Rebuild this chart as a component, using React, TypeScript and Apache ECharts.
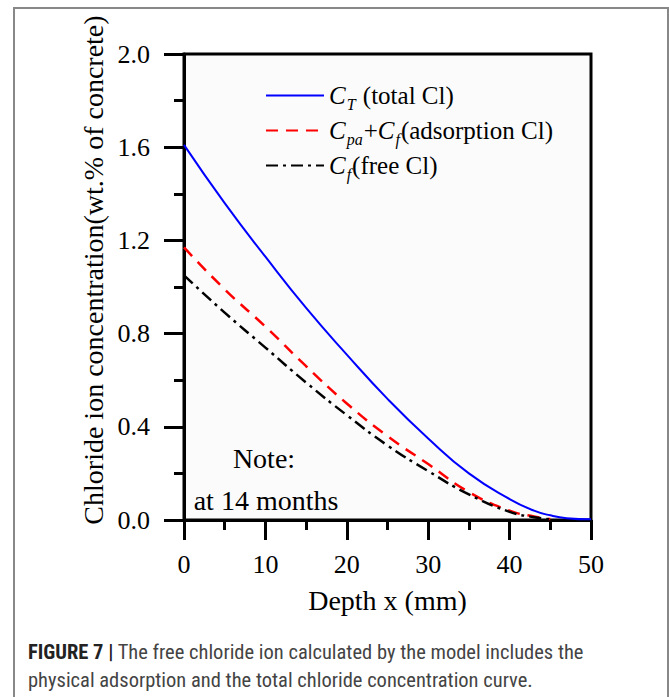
import React, { useEffect, useRef } from "react";
import * as echarts from "echarts";

const depth = [0, 5, 10, 15, 20, 25, 30, 35, 40, 43, 45, 47, 50];
const totalCl = [1.61, 1.36, 1.13, 0.91, 0.71, 0.52, 0.35, 0.2, 0.09, 0.04, 0.02, 0.008, 0.003];
const depthPart = [0, 5, 10, 15, 20, 25, 30, 35, 40, 43, 45];
const adsorptionCl = [1.17, 0.99, 0.83, 0.66, 0.5, 0.36, 0.24, 0.12, 0.04, 0.015, 0.004];
const freeCl = [1.05, 0.89, 0.74, 0.59, 0.45, 0.32, 0.21, 0.11, 0.035, 0.012, 0.003];

const seriesNames = ["CT (total Cl)", "Cpa+Cf (adsorption Cl)", "Cf (free Cl)"];
const legendRich: Record<string, string> = {
  "CT (total Cl)": "{i|C}{s|T}{n| (total Cl)}",
  "Cpa+Cf (adsorption Cl)": "{i|C}{s|pa}{n|+}{i|C}{s|f}{n|(adsorption Cl)}",
  "Cf (free Cl)": "{i|C}{s|f}{n|(free Cl)}",
};
const yTitle = "Chloride ion concentration(wt.% of concrete)";
const xTitle = "Depth x (mm)";

const SERIF = "'Liberation Serif', 'Times New Roman', serif";
const NARROW = "'Liberation Sans Narrow', 'Roboto Condensed', 'Liberation Sans', Arial, sans-serif";

export default function App() {
  const ref = useRef<HTMLDivElement>(null);
  useEffect(() => {
    if (!ref.current) return;
    const chart = echarts.init(ref.current, null, { renderer: "svg" });
    const pairs = (xs: number[], ys: number[]) => xs.map((x, i) => [x, ys[i]]);
    chart.setOption({
      animation: false,
      backgroundColor: "#ffffff",
      grid: {
        left: 184,
        top: 54,
        width: 407,
        height: 466,
        show: true,
        backgroundColor: "#fbfbfb",
        borderColor: "#000",
        borderWidth: 3,
      },
      legend: {
        data: seriesNames,
        orient: "vertical",
        left: 260,
        top: 78,
        itemWidth: 58,
        itemHeight: 14,
        itemGap: 6,
        itemStyle: { opacity: 0 },
        formatter: (name: string) => legendRich[name],
        textStyle: {
          color: "#000",
          fontFamily: SERIF,
          rich: {
            i: { fontFamily: SERIF, fontSize: 25, fontStyle: "italic", color: "#000" },
            s: { fontFamily: SERIF, fontSize: 16, fontStyle: "italic", color: "#000", padding: [17, 1, 0, 1] },
            n: { fontFamily: SERIF, fontSize: 25, color: "#000" },
          },
        },
      },
      xAxis: {
        type: "value",
        min: 0,
        max: 50,
        interval: 10,
        name: xTitle,
        nameLocation: "middle",
        nameGap: 66,
        nameTextStyle: { fontFamily: SERIF, fontSize: 28, color: "#000" },
        axisLine: { show: true, lineStyle: { color: "#000", width: 3 } },
        axisTick: { show: true, inside: false, length: 20, lineStyle: { color: "#000", width: 3 } },
        minorTick: { show: true, splitNumber: 2, length: 10, lineStyle: { color: "#000", width: 3 } },
        axisLabel: { margin: 31, fontFamily: SERIF, fontSize: 26, color: "#000" },
        splitLine: { show: false },
        minorSplitLine: { show: false },
      },
      yAxis: {
        type: "value",
        min: 0,
        max: 2,
        interval: 0.4,
        axisLine: { show: true, lineStyle: { color: "#000", width: 3 } },
        axisTick: { show: true, inside: false, length: 20, lineStyle: { color: "#000", width: 3 } },
        minorTick: { show: true, splitNumber: 2, length: 10, lineStyle: { color: "#000", width: 3 } },
        axisLabel: {
          margin: 34,
          fontFamily: SERIF,
          fontSize: 26,
          color: "#000",
          formatter: (v: number) => v.toFixed(1),
        },
        splitLine: { show: false },
        minorSplitLine: { show: false },
      },
      series: [
        {
          name: seriesNames[0],
          type: "line",
          smooth: true,
          showSymbol: false,
          symbol: "none",
          data: pairs(depth, totalCl),
          lineStyle: { color: "#0000ff", width: 2, type: "solid" },
          itemStyle: { color: "#0000ff" },
        },
        {
          name: seriesNames[1],
          type: "line",
          smooth: true,
          showSymbol: false,
          symbol: "none",
          data: pairs(depthPart, adsorptionCl),
          lineStyle: { color: "#ff0000", width: 2.5, type: [12, 8] },
          itemStyle: { color: "#ff0000" },
        },
        {
          name: seriesNames[2],
          type: "line",
          smooth: true,
          showSymbol: false,
          symbol: "none",
          data: pairs(depthPart, freeCl),
          lineStyle: { color: "#000000", width: 2.5, type: [12, 5, 3, 5] },
          itemStyle: { color: "#000000" },
        },
      ],
      graphic: [
        {
          type: "rect",
          shape: { x: 14, y: 8, width: 654, height: 700 },
          style: { fill: "none", stroke: "#888", lineWidth: 2 },
          silent: true,
        },
        {
          type: "text",
          x: 93,
          y: 270,
          rotation: Math.PI / 2,
          style: {
            text: yTitle,
            font: `28px ${SERIF}`,
            fill: "#000",
            textAlign: "center",
            textVerticalAlign: "middle",
          },
        },
        {
          type: "text",
          x: 264,
          y: 458,
          style: { text: "Note:", font: `28px ${SERIF}`, fill: "#000", textAlign: "center", textVerticalAlign: "middle" },
        },
        {
          type: "text",
          x: 266,
          y: 500,
          style: { text: "at 14 months", font: `28px ${SERIF}`, fill: "#000", textAlign: "center", textVerticalAlign: "middle" },
        },
        {
          type: "text",
          x: 28,
          y: 652,
          style: {
            text: "{b|FIGURE 7 |} The free chloride ion calculated by the model includes the",
            font: `20.5px ${NARROW}`,
            fill: "#444",
            textVerticalAlign: "middle",
            rich: {
              b: { font: `bold 20.5px ${NARROW}`, fill: "#222" },
            },
          },
        },
        {
          type: "text",
          x: 28,
          y: 680,
          style: {
            text: "physical adsorption and the total chloride concentration curve.",
            font: `20.5px ${NARROW}`,
            fill: "#444",
            textVerticalAlign: "middle",
          },
        },
      ],
    });
    return () => chart.dispose();
  }, []);
  return (
    <div
      ref={ref}
      style={{ position: "absolute", left: 0, top: 0, width: 669, height: 697, background: "#fff" }}
    />
  );
}
